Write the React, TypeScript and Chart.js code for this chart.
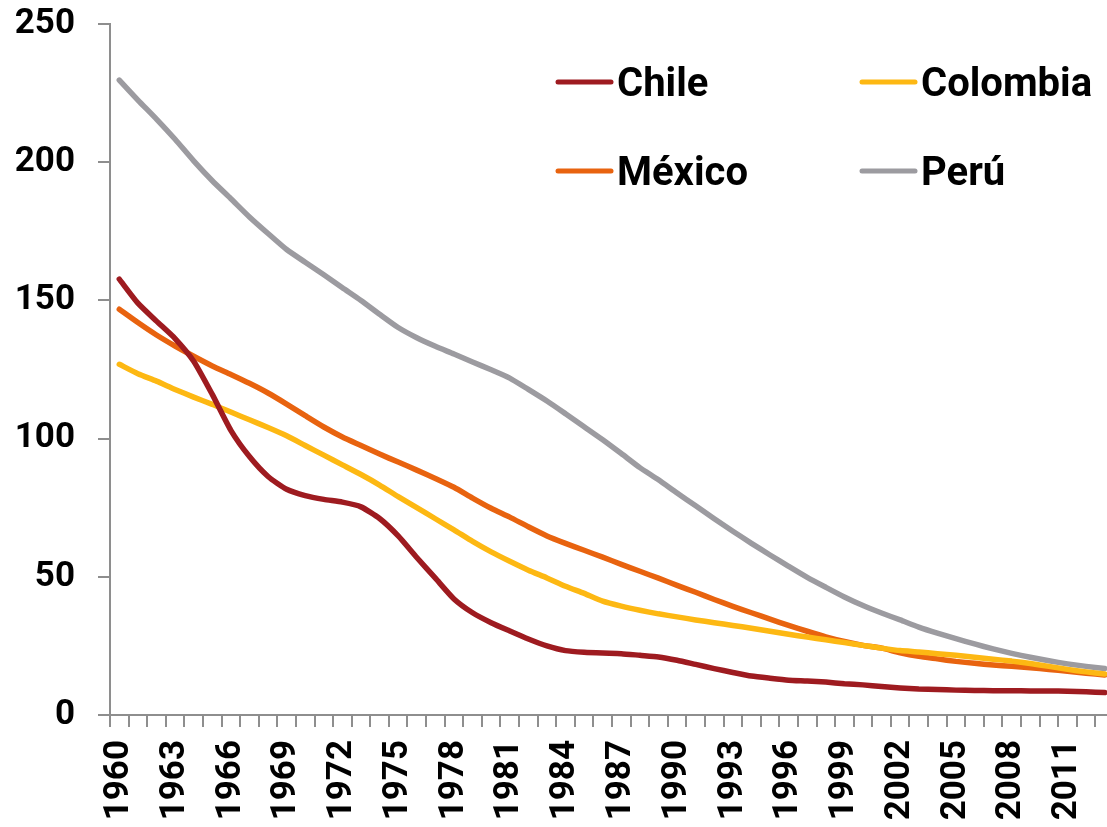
import React, { useEffect, useRef } from "react";
import { Chart, registerables } from "chart.js";

Chart.register(...registerables);

const years = [
  "1960","1961","1962","1963","1964","1965","1966","1967","1968","1969",
  "1970","1971","1972","1973","1974","1975","1976","1977","1978","1979",
  "1980","1981","1982","1983","1984","1985","1986","1987","1988","1989",
  "1990","1991","1992","1993","1994","1995","1996","1997","1998","1999",
  "2000","2001","2002","2003","2004","2005","2006","2007","2008","2009",
  "2010","2011","2012","2013",
];

const chile = [
  157.7, 149, 142.5, 136.2, 128, 116, 103, 93.5, 86.3, 81.7,
  79.4, 78, 77, 75.3, 71.1, 64.8, 57, 49.5, 42, 37,
  33.4, 30.4, 27.5, 25, 23.3, 22.7, 22.4, 22.2, 21.6, 21,
  19.8, 18.3, 16.8, 15.4, 14.1, 13.3, 12.6, 12.3, 11.9, 11.3,
  10.9, 10.3, 9.8, 9.4, 9.2, 9.0, 8.9, 8.8, 8.8, 8.7,
  8.7, 8.6, 8.4, 8.1,
];

const colombia = [
  126.9, 123.5, 120.8, 117.8, 115, 112.4, 109.6, 106.8, 104, 101,
  97.5, 94, 90.5, 87, 83.2, 79, 75, 71, 67, 62.8,
  59, 55.6, 52.4, 49.6, 46.6, 44, 41.2, 39.4, 37.9, 36.6,
  35.5, 34.4, 33.4, 32.4, 31.4, 30.3, 29.2, 28.2, 27.2, 26.2,
  25.2, 24.2, 23.3, 22.8, 22.2, 21.6, 20.9, 20.2, 19.5, 18.6,
  17.6, 16.5, 15.6, 14.8,
];

const mexico = [
  146.8, 142, 137.5, 133.5, 129.8, 126.3, 123.2, 120, 116.5, 112.5,
  108.3, 104.2, 100.6, 97.5, 94.4, 91.5, 88.6, 85.6, 82.4, 78.5,
  74.8, 71.6, 68.1, 64.8, 62.1, 59.6, 57.1, 54.5, 52, 49.5,
  46.9, 44.4, 41.8, 39.3, 37, 34.7, 32.4, 30.3, 28.3, 26.6,
  25.2, 24.2, 22.5, 21.2, 20.3, 19.4, 18.7, 18.1, 17.6, 17.1,
  16.5, 15.8, 15.1, 14.5,
];

const peru = [
  229.7, 222.5, 215.6, 208.3, 200.5, 193.3, 186.8, 180.2, 174.2, 168.4,
  163.8, 159.3, 154.6, 150, 145, 140.2, 136.5, 133.4, 130.6, 127.7,
  124.9, 121.9, 117.8, 113.6, 109, 104.3, 99.6, 94.6, 89.5, 85.1,
  80.3, 75.7, 71, 66.5, 62.1, 57.9, 53.8, 49.8, 46.2, 42.7,
  39.6, 36.9, 34.4, 31.8, 29.6, 27.6, 25.7, 23.9, 22.3, 20.9,
  19.6, 18.5, 17.6, 16.8,
];

const seriesNames = ["Chile", "Colombia", "México", "Perú"];
const yTicks = [0, 50, 100, 150, 200, 250];

const COLORS = ["#9E1B20", "#FDB813", "#E8630F", "#9C9BA0"];
const AXIS = "#8E8E8E";
const FONT = "Roboto, 'DejaVu Sans', sans-serif";

const CANVAS_W = 1125;
const CANVAS_H = 870;

// legend layout (canvas pixels)
const legendPos = [
  { x: 558, y: 82 },
  { x: 862, y: 82 },
  { x: 558, y: 171 },
  { x: 862, y: 171 },
];

const legendPlugin = {
  id: "cornerLegend",
  afterDraw(chart: any) {
    const ctx = chart.ctx;
    ctx.save();
    chart.data.datasets.forEach((ds: any, i: number) => {
      const p = legendPos[i];
      ctx.strokeStyle = ds.borderColor;
      ctx.lineWidth = 5;
      ctx.lineCap = "round";
      ctx.beginPath();
      ctx.moveTo(p.x, p.y);
      ctx.lineTo(p.x + 53, p.y);
      ctx.stroke();
      ctx.fillStyle = "#000";
      ctx.font = `bold 40px ${FONT}`;
      ctx.textAlign = "left";
      ctx.textBaseline = "alphabetic";
      ctx.fillText(ds.label, p.x + 59, p.y + 14);
    });
    ctx.restore();
  },
};

export default function App() {
  const ref = useRef<HTMLCanvasElement | null>(null);

  useEffect(() => {
    if (!ref.current) return;
    const data = [chile, colombia, mexico, peru];
    const chart = new Chart(ref.current, {
      type: "line",
      data: {
        labels: years,
        datasets: seriesNames.map((name, i) => ({
          label: name,
          data: data[i],
          borderColor: COLORS[i],
          backgroundColor: COLORS[i],
          borderWidth: 5.5,
          pointRadius: 0,
          tension: 0.2,
          fill: false,
          borderCapStyle: "round" as const,
          borderJoinStyle: "round" as const,
        })),
      },
      options: {
        responsive: false,
        animation: false,
        layout: { padding: { left: 0, right: CANVAS_W - 1114, top: 24, bottom: 0 } },
        plugins: {
          legend: { display: false },
          tooltip: { enabled: false },
        },
        scales: {
          x: {
            type: "category",
            offset: true,
            afterFit(scale: any) {
              scale.height = CANVAS_H - 715;
              scale.paddingLeft = 0;
              scale.paddingRight = 0;
            },
            grid: {
              offset: true,
              drawOnChartArea: false,
              drawTicks: true,
              tickLength: 12,
              color: AXIS,
              lineWidth: 2,
            },
            border: { display: true, color: AXIS, width: 2 },
            ticks: {
              autoSkip: false,
              maxRotation: 90,
              minRotation: 90,
              padding: 13,
              color: "#000",
              font: { family: FONT, size: 35, weight: "bold" },
              callback(this: any, val: any, index: number) {
                return index % 3 === 0 ? this.getLabelForValue(val) : "";
              },
            },
          },
          y: {
            min: yTicks[0],
            max: yTicks[yTicks.length - 1],
            afterFit(scale: any) {
              scale.width = 110;
              scale.paddingTop = 0;
              scale.paddingBottom = 0;
            },
            grid: {
              drawOnChartArea: false,
              drawTicks: true,
              tickLength: 12,
              color: AXIS,
              lineWidth: 2,
            },
            border: { display: true, color: AXIS, width: 2 },
            ticks: {
              stepSize: 50,
              padding: 23,
              color: "#000",
              font: { family: FONT, size: 35, weight: "bold" },
            },
          },
        },
      },
      plugins: [legendPlugin],
    });
    return () => chart.destroy();
  }, []);

  return (
    <div
      style={{
        position: "fixed",
        left: 0,
        top: 0,
        width: 1107,
        height: 827,
        overflow: "hidden",
        background: "#fff",
      }}
    >
      <canvas
        ref={ref}
        width={CANVAS_W}
        height={CANVAS_H}
        style={{ width: CANVAS_W, height: CANVAS_H, display: "block" }}
      />
    </div>
  );
}
